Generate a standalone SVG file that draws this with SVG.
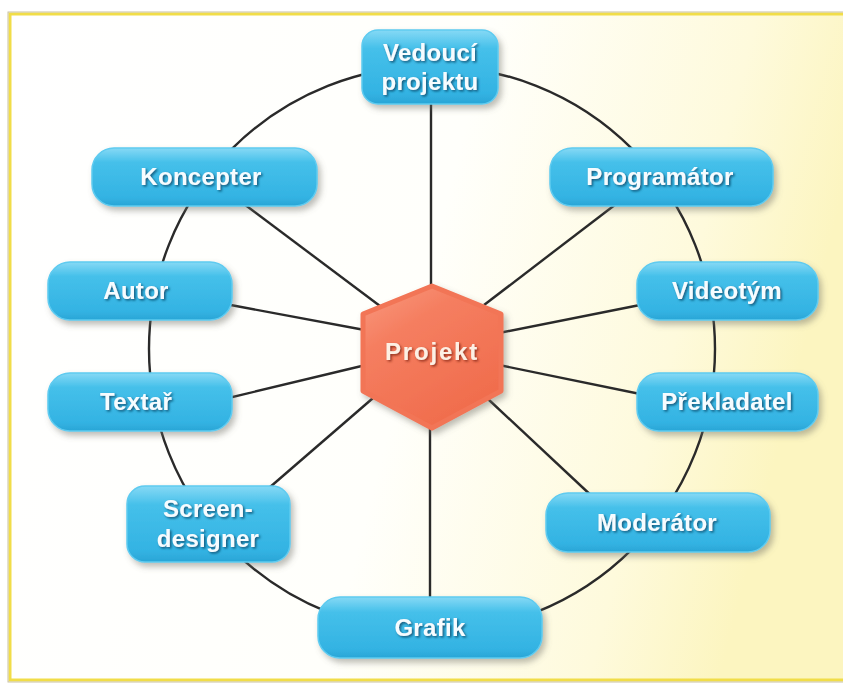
<svg xmlns="http://www.w3.org/2000/svg" width="843" height="684" viewBox="0 0 843 684">
<defs>
<linearGradient id="bg" x1="0" y1="0" x2="1" y2="0.2">
<stop offset="0" stop-color="#ffffff"/>
<stop offset="0.55" stop-color="#fffffb"/>
<stop offset="0.85" stop-color="#fefadc"/>
<stop offset="1" stop-color="#fcf5c0"/>
</linearGradient>
<linearGradient id="box" x1="0" y1="0" x2="0" y2="1">
<stop offset="0" stop-color="#86d9f5"/>
<stop offset="0.25" stop-color="#45c0ea"/>
<stop offset="0.85" stop-color="#33b3e3"/>
<stop offset="1" stop-color="#2aa5d6"/>
</linearGradient>
<linearGradient id="hex" x1="0" y1="0" x2="0.6" y2="1">
<stop offset="0" stop-color="#f99a80"/>
<stop offset="0.35" stop-color="#f57e60"/>
<stop offset="1" stop-color="#f06c4c"/>
</linearGradient>
<filter id="sh" x="-20%" y="-30%" width="150%" height="170%">
<feDropShadow dx="3" dy="4" stdDeviation="3" flood-color="#6a6a60" flood-opacity="0.45"/>
</filter>
<filter id="tsh" x="-10%" y="-30%" width="130%" height="170%">
<feDropShadow dx="1.5" dy="1.5" stdDeviation="0.8" flood-color="#0d4d6e" flood-opacity="0.9"/>
</filter>
<filter id="tsh2" x="-10%" y="-30%" width="130%" height="170%">
<feDropShadow dx="1.5" dy="1.5" stdDeviation="0.8" flood-color="#8a2a14" flood-opacity="0.9"/>
</filter>
</defs>
<style>
.node rect{fill:url(#box);stroke:#5ecbf0;stroke-width:1.5;filter:url(#sh)}
.node text{font-family:"Liberation Sans",Arial,sans-serif;font-weight:bold;font-size:24px;fill:#f6fcff;text-anchor:middle;filter:url(#tsh);letter-spacing:0.3px}
.conn line,.conn circle{stroke:#2a2a2a;stroke-width:2.4;fill:none}
</style>
<rect x="0" y="0" width="843" height="684" fill="#ffffff"/>
<rect x="10" y="14" width="845" height="666" fill="url(#bg)" stroke="#f1dd48" stroke-width="3"/>
<rect x="8" y="12" width="849" height="670" fill="none" stroke="#c9c2a2" stroke-width="1"/>
<g id="connectors" class="conn">
<circle cx="432" cy="349" r="283"/>
<line x1="431" y1="95" x2="431" y2="300"/>
<line x1="240" y1="201" x2="380" y2="306"/>
<line x1="220" y1="303" x2="370" y2="331"/>
<line x1="220" y1="400" x2="370" y2="364"/>
<line x1="262" y1="494" x2="380" y2="392"/>
<line x1="430" y1="610" x2="430" y2="410"/>
<line x1="596" y1="500" x2="488" y2="399"/>
<line x1="650" y1="396" x2="494" y2="364"/>
<line x1="650" y1="303" x2="494" y2="334"/>
<line x1="620" y1="201" x2="484" y2="305"/>
</g>
<g id="projekt">
<polygon points="432,286 501,314 501,391 432,428 363,391 363,314" fill="url(#hex)" stroke="#f27556" stroke-width="5" stroke-linejoin="round" filter="url(#sh)"/>
<text x="432" y="360" font-family="'Liberation Sans',Arial,sans-serif" font-weight="bold" font-size="24" fill="#fdf0e4" text-anchor="middle" letter-spacing="1.8" filter="url(#tsh2)">Projekt</text>
</g>
<g id="vedouci" class="node">
<rect x="362" y="30" width="136" height="74" rx="16"/>
<text x="430" y="61">Vedoucí</text>
<text x="430" y="90">projektu</text>
</g>
<g id="koncepter" class="node">
<rect x="92" y="148" width="225" height="58" rx="22"/>
<text x="201" y="185">Koncepter</text>
</g>
<g id="programator" class="node">
<rect x="550" y="148" width="223" height="58" rx="22"/>
<text x="660" y="185">Programátor</text>
</g>
<g id="autor" class="node">
<rect x="48" y="262" width="184" height="58" rx="22"/>
<text x="136" y="299">Autor</text>
</g>
<g id="videotym" class="node">
<rect x="637" y="262" width="181" height="58" rx="22"/>
<text x="727" y="299">Videotým</text>
</g>
<g id="textar" class="node">
<rect x="48" y="373" width="184" height="58" rx="22"/>
<text x="136" y="410">Textař</text>
</g>
<g id="prekladatel" class="node">
<rect x="637" y="373" width="181" height="58" rx="22"/>
<text x="727" y="410">Překladatel</text>
</g>
<g id="screendesigner" class="node">
<rect x="127" y="486" width="163" height="76" rx="18"/>
<text x="208" y="517">Screen-</text>
<text x="208" y="547">designer</text>
</g>
<g id="moderator" class="node">
<rect x="546" y="493" width="224" height="59" rx="22"/>
<text x="657" y="531">Moderátor</text>
</g>
<g id="grafik" class="node">
<rect x="318" y="597" width="224" height="61" rx="22"/>
<text x="430" y="636">Grafik</text>
</g>
</svg>
